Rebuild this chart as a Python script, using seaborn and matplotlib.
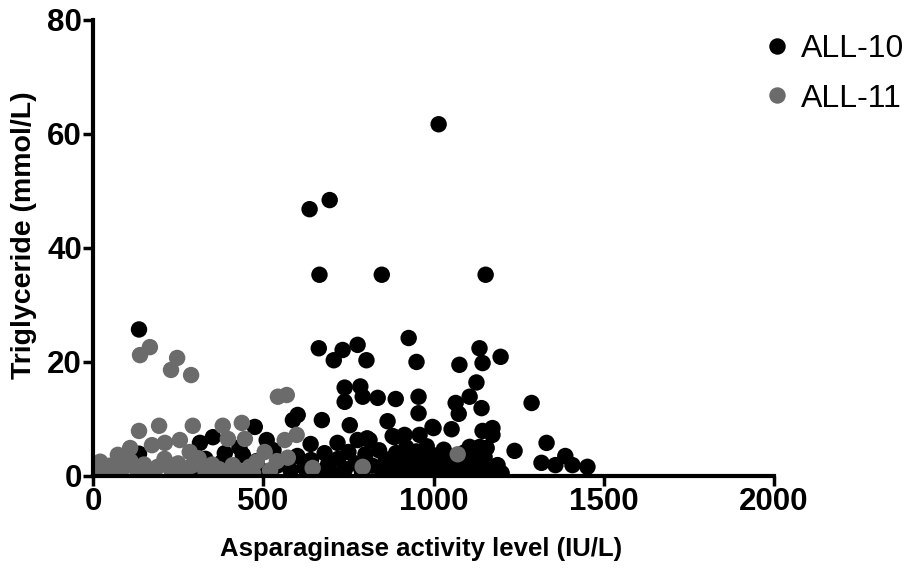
import numpy as np
import pandas as pd
import matplotlib
matplotlib.use("Agg")
import matplotlib.pyplot as plt
import seaborn as sns

# ---- data ----
all10_x = [1015, 636, 695, 665, 848, 1153, 927, 663, 707, 733, 777, 803, 950, 1076, 1135, 1144, 1197,
           135, 739, 785, 1126, 739, 792, 836, 889, 956, 1106, 1065, 1288, 1074, 1141, 956, 601, 587,
           672, 754, 865, 997, 1000, 1053, 1144, 1173, 1173, 880, 915, 959, 812, 885, 777, 805, 718,
           639, 475, 510, 352, 314, 440, 387, 135, 1106, 1156, 1136, 1238, 1332, 1317, 1358, 1387,
           1408, 1452, 1188, 1188,
           560, 580, 600, 620, 640, 660, 680, 690, 700, 720, 740, 750, 770, 790, 800, 820, 840, 850,
           860, 880, 890, 900, 910, 920, 930, 940, 950, 960, 970, 980, 990, 1000, 1010, 1020, 1030,
           1040, 1050, 1060, 1080, 1090, 1100, 1120, 1130, 1150, 1160, 1170, 1200,
           300, 330, 350, 380, 410, 430, 460, 480, 500, 530, 540]
all10_y = [61.7, 46.8, 48.4, 35.3, 35.3, 35.3, 24.2, 22.4, 20.3, 22.1, 23.0, 20.3, 20.0, 19.5, 22.4, 19.8, 20.9,
           25.7, 15.5, 15.7, 16.4, 13.0, 13.9, 13.7, 13.5, 13.9, 13.9, 12.8, 12.8, 10.9, 11.9, 11.0, 10.7, 9.8,
           9.8, 8.9, 9.6, 8.6, 8.4, 8.2, 7.9, 8.4, 7.2, 7.0, 7.2, 7.2, 6.3, 6.8, 6.3, 6.6, 5.8,
           5.6, 8.6, 6.3, 6.8, 5.8, 3.7, 4.0, 3.9, 5.1, 4.9, 5.1, 4.4, 5.8, 2.3, 1.9, 3.5,
           1.9, 1.6, 1.0, 1.9,
           2.5, 1.0, 3.5, 1.5, 2.8, 0.8, 4.0, 2.0, 0.5, 3.0, 1.2, 4.2, 2.2, 0.7, 3.8, 1.8, 4.5, 0.6,
           2.9, 1.3, 4.0, 2.4, 0.8, 5.0, 3.2, 1.5, 4.3, 0.5, 2.6, 5.2, 1.2, 3.6, 0.7, 2.2, 4.6,
           1.4, 3.0, 0.6, 2.0, 4.1, 1.0, 2.8, 0.5, 3.3, 1.6, 0.8, 0.5,
           1.5, 3.0, 1.0, 2.5, 1.8, 5.0, 1.2, 2.6, 0.8, 4.5, 1.8]

all11_x = [167, 138, 247, 229, 288, 543, 569, 437, 381, 293, 194, 135, 396, 446, 598, 563, 504, 255,
           211, 173, 109, 284, 73, 21, 645, 792, 1071, 572, 460,
           10, 30, 50, 70, 90, 110, 130, 150, 170, 190, 210, 230, 250, 270, 290, 310, 330, 350, 370,
           390, 410, 430, 480, 520, 540, 470]
all11_y = [22.6, 21.2, 20.7, 18.6, 17.7, 13.9, 14.2, 9.3, 8.8, 8.8, 8.8, 7.9, 6.5, 6.5, 7.2, 6.3, 4.2, 6.3,
           5.8, 5.4, 4.9, 4.2, 3.7, 2.5, 1.4, 1.6, 3.8, 3.2, 1.6,
           1.2, 0.8, 1.8, 0.6, 1.5, 2.6, 0.9, 2.0, 0.5, 1.6, 3.0, 1.0, 2.2, 0.6, 1.8, 3.1, 0.8, 2.0, 1.2,
           0.5, 1.9, 0.9, 2.5, 1.0, 2.6, 0.5]

groups = ["ALL-10", "ALL-11"]
x_ticks = [0, 500, 1000, 1500, 2000]
y_ticks = [0, 20, 40, 60, 80]

df = pd.DataFrame({
    "x": all10_x + all11_x,
    "y": all10_y + all11_y,
    "group": [groups[0]] * len(all10_x) + [groups[1]] * len(all11_x),
})

sns.set_style("ticks")
plt.rcParams["font.family"] = ["Liberation Sans", "DejaVu Sans"]
plt.rcParams["text.color"] = "black"
plt.rcParams["axes.labelcolor"] = "black"
plt.rcParams["xtick.color"] = "black"
plt.rcParams["ytick.color"] = "black"

fig = plt.figure(figsize=(9.23, 5.70), dpi=100)
ax = fig.add_axes([0.1008, 0.165, 0.7378, 0.800])

sns.scatterplot(data=df, x="x", y="y", hue="group", hue_order=groups,
                palette={"ALL-10": "#000000", "ALL-11": "#6b6b6b"},
                s=140, edgecolor="none", linewidth=0, alpha=1, ax=ax, legend=True)

ax.set_xlim(0, 2000)
ax.set_ylim(0, 80)
ax.set_xticks(x_ticks)
ax.set_yticks(y_ticks)
ax.set_xticklabels([str(t) for t in x_ticks], fontsize=22.5, fontweight="bold", color="black")
ax.set_yticklabels([str(t) for t in y_ticks], fontsize=22.5, fontweight="bold", color="black")
ax.tick_params(axis="both", direction="out", length=7, width=2.5, pad=1, color="black",
               labelcolor="black")
for side in ["top", "right"]:
    ax.spines[side].set_visible(False)
for side in ["left", "bottom"]:
    ax.spines[side].set_linewidth(3)
    ax.spines[side].set_color("black")

ax.set_xlabel("Asparaginase activity level (IU/L)", fontsize=18.5, fontweight="bold", color="black")
ax.set_ylabel("Triglyceride (mmol/L)", fontsize=20.5, fontweight="bold", color="black")
ax.xaxis.set_label_coords(0.4816, -0.134)
ax.yaxis.set_label_coords(-0.082, 0.528)

handles, labels = ax.get_legend_handles_labels()
leg = ax.legend(handles, labels, loc="upper left", bbox_to_anchor=(0.8126, 0.962),
                bbox_transform=fig.transFigure, frameon=False, fontsize=23,
                markerscale=1.0, handletextpad=0.3, labelspacing=0.6, handlelength=0.9,
                borderaxespad=0)
for t in leg.get_texts():
    t.set_color("black")

fig.savefig("out.png", dpi=100)
